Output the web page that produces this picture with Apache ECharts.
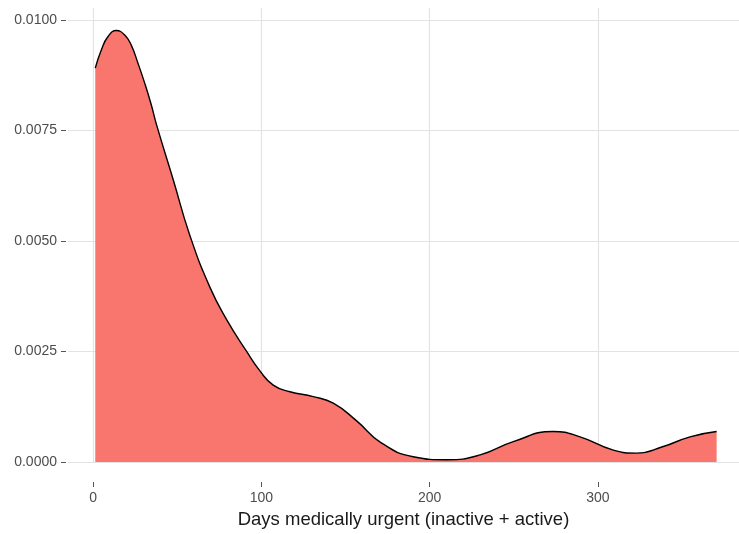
<!DOCTYPE html>
<html>
<head>
<meta charset="utf-8">
<script src="https://cdn.jsdelivr.net/npm/echarts@6/dist/echarts.min.js"></script>
<style>
  html, body { margin: 0; padding: 0; background: #fff; }
  #chart { width: 739px; height: 534px; }
</style>
</head>
<body>
<div id="chart"></div>
<script>
// density curve: days, density
var days = [1.2, 4.8, 8.7, 13.7, 18.7, 22.6, 26.6, 30.6, 34.5, 37.7, 47.6, 57.5, 69.4, 79.3,
            91.2, 99.1, 107, 116.9, 130.8, 142.7, 156.6, 171, 190.2, 210, 230, 249.7, 273.5, 289.4,
            309.2, 323.1, 338.9, 354.8, 370.6];
var density = [0.00891, 0.00932, 0.00962, 0.00976, 0.00966, 0.00943, 0.00902, 0.00857, 0.00808, 0.00762,
               0.00638, 0.00512, 0.00395, 0.00322, 0.00250, 0.00206, 0.00174, 0.00159, 0.00148,
               0.00133, 0.00093, 0.00044, 0.00012, 0.00005, 0.00016, 0.00046, 0.00069, 0.00057, 0.00027,
               0.00020, 0.00035, 0.00057, 0.00069];
var xTicks = [0, 100, 200, 300];
var yTicks = [0, 0.0025, 0.005, 0.0075, 0.01];

var chart = echarts.init(document.getElementById('chart'));
var points = days.map(function (d, i) { return [d, density[i]]; });

chart.setOption({
  animation: false,
  backgroundColor: '#fff',
  grid: { left: 68, right: 0, top: 8, bottom: 72, containLabel: false },
  xAxis: {
    type: 'value',
    min: -15,
    max: 383.9,
    offset: 20,
    name: 'Days medically urgent (inactive + active)',
    nameLocation: 'middle',
    nameGap: 28,
    nameTextStyle: { fontFamily: 'Liberation Sans', fontSize: 18.5, color: '#1a1a1a' },
    axisLine: { show: false, onZero: false },
    axisTick: { show: true, length: 5, customValues: xTicks, lineStyle: { color: '#555' } },
    axisLabel: { customValues: xTicks, margin: 9, fontFamily: 'Liberation Sans', fontSize: 14, color: '#4d4d4d' },
    splitLine: { show: true, lineStyle: { color: '#e3e3e3', width: 1.2 } }
  },
  yAxis: {
    type: 'value',
    min: 0,
    max: 0.01027,
    offset: 2,
    axisLine: { show: false, onZero: false },
    axisTick: { show: true, length: 5, customValues: yTicks, lineStyle: { color: '#555' } },
    axisLabel: {
      customValues: yTicks, margin: 9, fontFamily: 'Liberation Sans', fontSize: 14, color: '#4d4d4d',
      formatter: function (v) { return v.toFixed(4); }
    },
    splitLine: { show: true, lineStyle: { color: '#e3e3e3', width: 1.2 } }
  },
  series: [{
    type: 'line',
    data: points,
    smooth: 0.5,
    showSymbol: false,
    lineStyle: { color: '#000', width: 1.4 },
    areaStyle: { color: '#F8766D', opacity: 1 }
  }]
});
</script>
</body>
</html>
